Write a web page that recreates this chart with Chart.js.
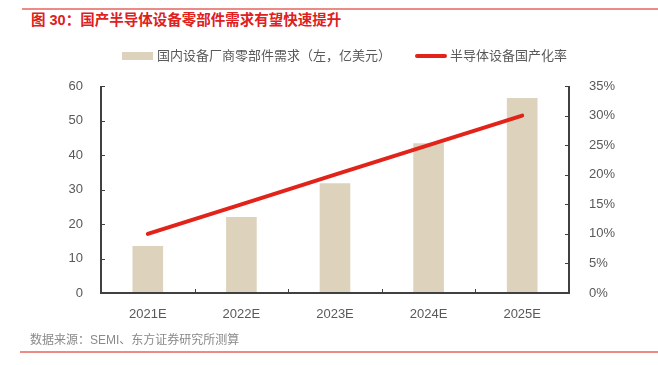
<!DOCTYPE html>
<html>
<head>
<meta charset="utf-8">
<script src="https://cdn.jsdelivr.net/npm/chart.js@4"></script>
<style>
  body { margin: 0; background: #fff; }
  #wrap { position: relative; width: 658px; height: 365px; overflow: hidden; font-family: "Liberation Sans", "Noto Sans CJK SC", sans-serif; }
  #chart { position: absolute; left: 0; top: 0; }
  .rule { position: absolute; height: 2px; background: #ec8a86; }
  #title { position: absolute; left: 31px; top: 8px; font-size: 14.5px; font-weight: bold; color: #e0201c; white-space: nowrap; }
  #source { position: absolute; left: 30px; top: 330px; font-size: 12px; color: #8a8a8a; white-space: nowrap; }
  .leg { position: absolute; top: 47px; font-size: 13px; color: #595959; white-space: nowrap; line-height: 17px; }
  .sw { position: absolute; }
</style>
</head>
<body>
<div id="wrap">
  <div class="rule" style="left:22px; right:0; top:8px;"></div>
  <div id="title">图 30：国产半导体设备零部件需求有望快速提升</div>
  <canvas id="chart" width="658" height="365"></canvas>
  <div class="sw" style="left:122px; top:52px; width:31px; height:8px; background:#ddd3bc;"></div>
  <div class="leg" id="leg1" style="left:157px;"></div>
  <div class="sw" style="left:415px; top:54px; width:32px; height:4px; border-radius:2px; background:#e2231a;"></div>
  <div class="leg" id="leg2" style="left:450px;"></div>
  <div id="source">数据来源：SEMI、东方证券研究所测算</div>
  <div class="rule" style="left:20px; right:0; top:351px;"></div>
</div>
<script>
const categories = ['2021E', '2022E', '2023E', '2024E', '2025E'];
const demand = [13.5, 21.9, 31.7, 43.3, 56.4];
const localRate = [10, 15, 20, 25, 30];
const demandName = '国内设备厂商零部件需求（左，亿美元）';
const rateName = '半导体设备国产化率';

document.getElementById('leg1').textContent = demandName;
document.getElementById('leg2').textContent = rateName;

const axisColor = '#404040';

// inward tick marks + axis lines
const axisPlugin = {
  id: 'axisPlugin',
  afterDatasetsDraw(chart) {
    const { ctx, chartArea: a, scales } = chart;
    ctx.save();
    ctx.strokeStyle = axisColor;
    ctx.lineWidth = 1;
    ctx.beginPath();
    scales.y.ticks.forEach(t => {
      const y = Math.round(scales.y.getPixelForValue(t.value)) + 0.5;
      ctx.moveTo(a.left, y); ctx.lineTo(a.left + 4, y);
    });
    scales.y2.ticks.forEach(t => {
      const y = Math.round(scales.y2.getPixelForValue(t.value)) + 0.5;
      ctx.moveTo(a.right, y); ctx.lineTo(a.right - 4, y);
    });
    for (let i = 1; i < categories.length; i++) {
      const x = Math.round((scales.x.getPixelForValue(i - 1) + scales.x.getPixelForValue(i)) / 2) + 0.5;
      ctx.moveTo(x, a.bottom); ctx.lineTo(x, a.bottom - 4);
    }
    ctx.stroke();
    ctx.lineWidth = 2;
    ctx.beginPath();
    ctx.moveTo(a.left, a.top); ctx.lineTo(a.left, a.bottom);
    ctx.lineTo(a.right, a.bottom); ctx.lineTo(a.right, a.top);
    ctx.stroke();
    ctx.restore();
  }
};

const tickFont = { family: '"Liberation Sans", "Noto Sans CJK SC", sans-serif', size: 13 };

new Chart(document.getElementById('chart').getContext('2d'), {
  data: {
    labels: categories,
    datasets: [
      {
        type: 'line',
        label: rateName,
        data: localRate,
        yAxisID: 'y2',
        borderColor: '#e2231a',
        borderWidth: 4,
        borderCapStyle: 'round',
        pointRadius: 0,
        tension: 0,
        order: 0
      },
      {
        type: 'bar',
        label: demandName,
        data: demand,
        yAxisID: 'y',
        backgroundColor: '#ddd3bc',
        barThickness: 30,
        order: 1
      }
    ]
  },
  options: {
    responsive: false,
    animation: false,
    layout: { padding: { top: 86, bottom: 0, left: 0, right: 0 } },
    plugins: { legend: { display: false }, tooltip: { enabled: false } },
    scales: {
      x: {
        offset: true,
        grid: { display: false },
        border: { display: false },
        ticks: { color: '#595959', font: tickFont, padding: 6 },
        afterFit: s => { s.height = 72; }
      },
      y: {
        position: 'left',
        min: 0, max: 60,
        ticks: { stepSize: 10, color: '#595959', font: tickFont, padding: 10 },
        grid: { display: false },
        border: { display: false },
        afterFit: s => { s.width = 101; }
      },
      y2: {
        position: 'right',
        min: 0, max: 35,
        ticks: { stepSize: 5, color: '#595959', font: tickFont, padding: 12, callback: v => v + '%' },
        grid: { display: false },
        border: { display: false },
        afterFit: s => { s.width = 89; }
      }
    }
  },
  plugins: [axisPlugin]
});
</script>
</body>
</html>
